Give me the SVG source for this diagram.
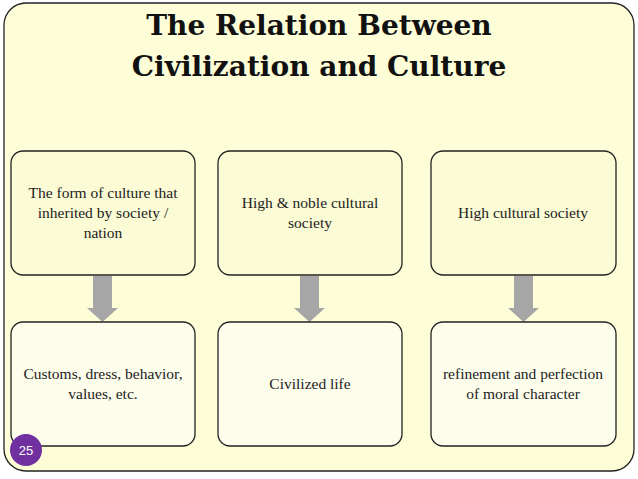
<svg xmlns="http://www.w3.org/2000/svg" width="638" height="479" viewBox="0 0 638 479">
<style>
.top{fill:#fbfbd5;stroke:#222;stroke-width:1.3}
.bot{fill:#fdfdec;stroke:#222;stroke-width:1.3}
.t{font-family:"Liberation Serif",serif;font-size:15.5px;fill:#222;text-anchor:middle}
.h{font-family:"DejaVu Serif",serif;font-weight:bold;font-size:28px;fill:#111;text-anchor:middle}
.ar{fill:#a6a6a6}
</style>
<rect width="638" height="479" fill="#fff"/>
<rect x="4" y="3" width="630" height="468" rx="22" fill="#fdfdd8" stroke="#222" stroke-width="1.3"/>
<text class="h" x="319" y="35">The Relation Between</text>
<text class="h" x="319" y="76">Civilization and Culture</text>
<g id="connectors">
<polygon class="ar" points="93,276 112,276 112,308 118,308 102.5,322 87,308 93,308"/>
<polygon class="ar" points="300,276 319,276 319,308 325,308 309.5,322 294,308 300,308"/>
<polygon class="ar" points="514,276 533,276 533,308 539,308 523.5,322 508,308 514,308"/>
</g>
<g id="n1"><rect class="top" x="11" y="151" width="184" height="124" rx="12"/>
<text class="t" x="103" y="198">The form of culture that</text><text class="t" x="103" y="218">inherited by society /</text><text class="t" x="103" y="238">nation</text></g>
<g id="n2"><rect class="top" x="218" y="151" width="184" height="124" rx="12"/>
<text class="t" x="310" y="208">High &amp; noble cultural</text><text class="t" x="310" y="228">society</text></g>
<g id="n3"><rect class="top" x="431" y="151" width="185" height="124" rx="12"/>
<text class="t" x="523" y="218">High cultural society</text></g>
<g id="n4"><rect class="bot" x="11" y="322" width="184" height="124" rx="12"/>
<text class="t" x="103" y="379">Customs, dress, behavior,</text><text class="t" x="103" y="399">values, etc.</text></g>
<g id="n5"><rect class="bot" x="218" y="322" width="184" height="124" rx="12"/>
<text class="t" x="310" y="389">Civilized life</text></g>
<g id="n6"><rect class="bot" x="431" y="322" width="185" height="124" rx="12"/>
<text class="t" x="523" y="379">refinement and perfection</text><text class="t" x="523" y="399">of moral character</text></g>
<g id="pagenum"><circle cx="26" cy="450" r="16" fill="#7030a0"/>
<text x="26" y="455" font-family="Liberation Sans,sans-serif" font-size="13" fill="#fff" text-anchor="middle">25</text></g>
</svg>
